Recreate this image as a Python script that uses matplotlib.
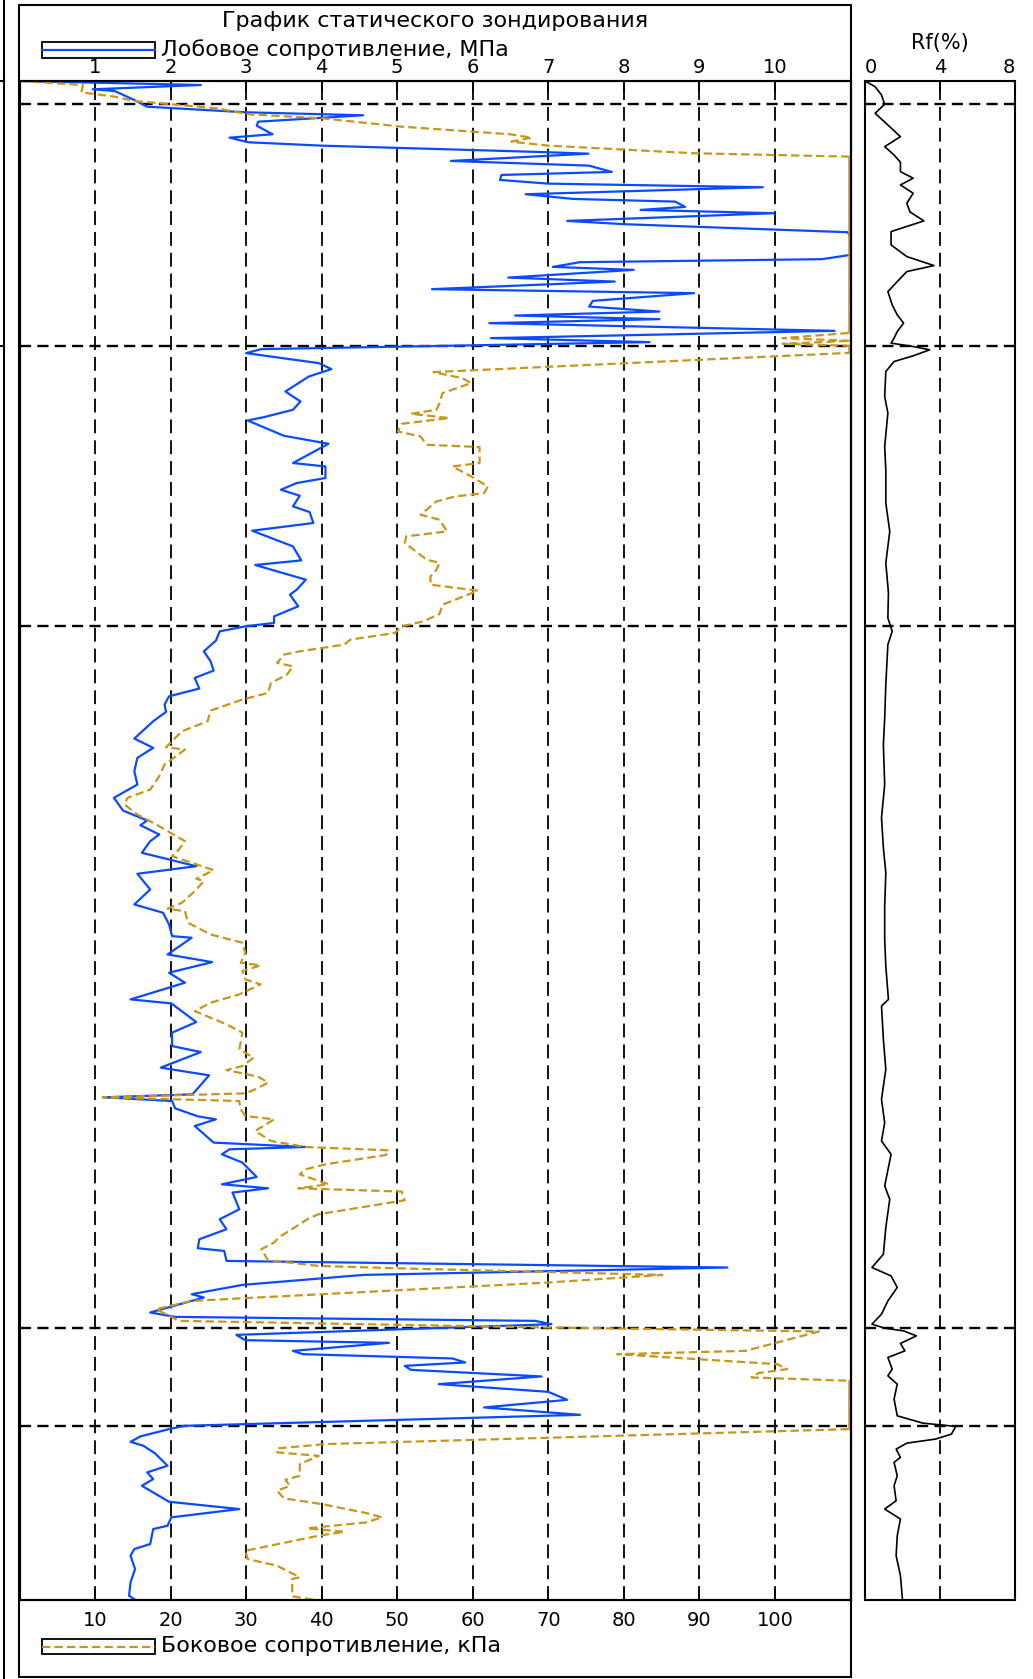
"""CPT sounding log: cone resistance, sleeve friction and friction ratio vs depth."""

import matplotlib

matplotlib.use("Agg")
import matplotlib.pyplot as plt
import numpy as np
from matplotlib.lines import Line2D
from matplotlib.patches import Rectangle
from matplotlib.transforms import offset_copy

W, H = 1033, 1679

# depth, m (0 at the top of the log)
QC_DEPTH = [0.0, 0.04, 0.083, 0.10, 0.19, 0.257, 0.313, 0.343, 0.407, 0.447, 0.533, 0.567, 0.613, 0.647,
            0.713, 0.727, 0.80, 0.833, 0.847, 0.91, 0.94, 0.99, 1.027, 1.063, 1.133, 1.18, 1.207, 1.26,
            1.29, 1.323, 1.40, 1.433, 1.513, 1.55, 1.72, 1.74, 1.783, 1.813, 1.86, 1.89, 1.967, 2.007,
            2.083, 2.123, 2.20, 2.257, 2.307, 2.347, 2.383, 2.423, 2.50, 2.573, 2.613, 2.683, 2.723,
            2.823, 2.883, 2.957, 3.107, 3.207, 3.29, 3.363, 3.397, 3.55, 3.63, 3.823, 3.857, 3.973,
            4.023, 4.09, 4.15, 4.257, 4.313, 4.423, 4.50, 4.657, 4.797, 4.843, 4.99, 5.09, 5.14, 5.257,
            5.357, 5.423, 5.457, 5.507, 5.60, 5.707, 5.807, 5.90, 5.973, 6.08, 6.157, 6.24, 6.313,
            6.407, 6.58, 6.673, 6.773, 6.907, 7.04, 7.173, 7.30, 7.40, 7.447, 7.54, 7.607, 7.723,
            7.857, 7.933, 8.09, 8.24, 8.323, 8.44, 8.557, 8.573, 8.74, 8.817, 8.923, 9.023, 9.19,
            9.23, 9.417, 9.523, 9.657, 9.717, 9.873, 9.95, 10.14, 10.17, 10.207, 10.28, 10.36, 10.39,
            10.457, 10.623, 10.667, 10.69, 10.74, 10.823, 10.967, 11.04, 11.08, 11.123, 11.29, 11.39,
            11.49, 11.59, 11.68, 11.707, 11.807, 11.873, 11.947, 12.047, 12.14, 12.173, 12.323,
            12.367, 12.407, 12.44, 12.547, 12.60, 12.627, 12.707, 12.74, 12.783, 12.823, 12.857,
            12.897, 12.963, 13.04, 13.117, 13.197, 13.273, 13.347, 13.457, 13.49, 13.563, 13.617,
            13.657, 13.73, 13.857, 13.923, 13.99, 14.057, 14.217, 14.29, 14.373, 14.457, 14.49,
            14.64, 14.69, 14.757, 14.89, 15.023, 15.157, 15.197]
# cone (front) resistance, MPa
QC = [0.0, 2.40, 0.97, 1.26, 1.52, 1.69, 2.99, 4.55, 3.16, 3.14, 3.35, 2.78, 3.03, 4.00,
      7.00, 7.53, 5.71, 7.00, 7.54, 7.84, 6.38, 6.36, 7.00, 9.84, 6.70, 7.33, 8.68, 8.81,
      8.22, 9.99, 7.25, 8.01, 10.96, 11.0, 11.0, 11.0, 10.62, 7.42, 7.06, 8.13, 6.47, 7.88,
      5.46, 8.93, 7.59, 7.54, 8.47, 6.56, 8.47, 6.22, 10.79, 6.24, 8.34, 3.20, 3.00,
      3.96, 4.13, 3.83, 3.52, 3.72, 3.62, 3.24, 3.02, 3.50, 4.09, 3.62, 4.05, 4.05,
      3.67, 3.46, 3.71, 3.62, 3.84, 3.89, 3.08, 3.62, 3.73, 3.12, 3.79, 3.67, 3.58, 3.69,
      3.37, 3.37, 2.99, 2.65, 2.60, 2.44, 2.53, 2.57, 2.32, 2.38, 1.98, 1.92, 1.94,
      1.77, 1.52, 1.77, 1.56, 1.52, 1.56, 1.25, 1.37, 1.69, 1.60, 1.85, 1.73, 1.62,
      2.34, 1.56, 1.73, 1.52, 1.90, 1.98, 2.02, 2.28, 1.96, 2.55, 1.98, 2.19, 1.47,
      2.01, 2.34, 2.02, 2.02, 2.40, 1.87, 2.51, 2.29, 1.12, 2.02, 2.06, 2.36, 2.60,
      2.32, 2.57, 3.79, 2.78, 2.68, 2.95, 3.14, 2.68, 3.29, 2.82, 2.91, 2.65,
      2.74, 2.38, 2.36, 2.71, 2.74, 9.37, 4.55, 2.95, 2.28, 2.44, 1.73,
      2.06, 6.83, 7.04, 2.87, 2.99, 4.89, 3.62, 3.75, 5.73, 5.90, 5.10,
      5.18, 6.91, 5.55, 7.00, 7.25, 6.15, 7.42, 2.19, 1.98, 1.60, 1.47,
      1.64, 1.79, 1.96, 1.69, 1.77, 1.62, 1.98, 2.91, 2.01, 1.96, 1.77,
      1.73, 1.52, 1.47, 1.53, 1.47, 1.45, 1.53]

FS_DEPTH = [0.0, 0.04, 0.113, 0.157, 0.20, 0.233, 0.273, 0.333, 0.373, 0.457, 0.533, 0.567, 0.607,
            0.647, 0.68, 0.723, 0.757, 2.52, 2.573, 2.60, 2.63, 2.65, 2.72, 2.913, 2.973, 3.023,
            3.123, 3.223, 3.29, 3.33, 3.373, 3.43, 3.507, 3.557, 3.64, 3.663, 3.823, 3.857, 3.957,
            4.057, 4.123, 4.157, 4.207, 4.34, 4.39, 4.507, 4.557, 4.623, 4.79, 4.823, 4.89, 4.957,
            5.04, 5.10, 5.24, 5.333, 5.407, 5.457, 5.523, 5.59, 5.64, 5.707, 5.74, 5.823, 5.857,
            5.94, 6.023, 6.123, 6.19, 6.30, 6.407, 6.507, 6.667, 6.69, 6.84, 6.957, 7.09, 7.173,
            7.24, 7.34, 7.44, 7.607, 7.69, 7.757, 7.897, 7.983, 8.007, 8.107, 8.223, 8.283, 8.307,
            8.423, 8.54, 8.623, 8.723, 8.823, 8.85, 8.907, 8.99, 9.04, 9.14, 9.223, 9.307, 9.44,
            9.523, 9.69, 9.773, 9.857, 9.897, 9.963, 10.023, 10.09, 10.13, 10.17, 10.207, 10.28,
            10.357, 10.39, 10.507, 10.607, 10.667, 10.70, 10.747, 10.84, 10.89, 10.94, 11.04,
            11.08, 11.113, 11.20, 11.34, 11.38, 11.44, 11.567, 11.623, 11.69, 11.80, 11.857, 11.88,
            11.947, 12.023, 12.207, 12.29, 12.407, 12.473, 12.513, 12.623, 12.707, 12.74, 12.84,
            12.89, 12.93, 12.973, 13.007, 13.49, 13.64, 13.683, 13.723, 13.757, 13.84, 13.957,
            13.997, 14.057, 14.107, 14.183, 14.24, 14.33, 14.373, 14.423, 14.483, 14.517, 14.557,
            14.707, 14.79, 14.857, 14.973, 14.99, 15.163, 15.197]
# sleeve (side) friction, kPa
FS = [0.0, 8.4, 8.2, 12.6, 15.2, 20.2, 26.1, 30.3, 40.0, 50.6, 64.9, 67.8, 65.1,
      70.0, 78.4, 89.3, 110, 110, 101, 110, 101, 110, 110, 54.8, 58.6, 59.8,
      56.0, 55.6, 55.2, 51.8, 56.9, 50.6, 50.1, 53.1, 53.9, 60.9, 60.9, 57.3, 59.8,
      62.0, 61.5, 57.7, 55.2, 53.1, 55.6, 56.6, 51.2, 51.0, 53.9, 55.6, 55.2, 54.4,
      54.4, 60.7, 56.0, 55.6, 53.5, 50.6, 49.7, 43.8, 43.0, 37.1, 35.0, 34.1, 36.2,
      35.4, 33.3, 32.9, 29.5, 25.3, 24.9, 21.5, 19.4, 21.9, 19.2, 18.5, 17.3, 14.3,
      13.9, 15.6, 18.1, 21.9, 21.1, 20.2, 25.7, 23.4, 24.4, 23.2, 21.5, 19.6, 21.9,
      22.3, 25.3, 29.5, 29.9, 29.3, 31.9, 29.5, 29.9, 31.9, 29.1, 25.3, 23.2, 27.4,
      29.5, 29.1, 31.0, 29.5, 27.4, 31.6, 32.9, 31.2, 29.9, 11.0, 29.1, 29.2,
      29.9, 33.7, 31.2, 33.3, 37.9, 48.9, 48.5, 40.5, 37.9, 37.1, 40.9,
      36.9, 50.6, 51.0, 39.6, 38.3, 37.1, 34.4, 33.7, 32.0, 32.9, 39.6, 49.7,
      85.1, 70.0, 22.8, 18.1, 21.1, 70.0, 105.8, 100.3, 96.1, 79.1, 100.3,
      101.6, 97.8, 96.9, 110, 110, 40.5, 34.1, 34.1, 39.6, 37.1, 37.1,
      35.2, 35.8, 34.1, 35.0, 40.0, 45.9, 48.0, 45.9, 38.1, 43.0, 39.6,
      29.9, 30.2, 34.1, 37.1, 36.1, 36.1, 38.9]

RF_DEPTH = [0.0, 0.057, 0.14, 0.233, 0.323, 0.44, 0.557, 0.657, 0.74, 0.813, 0.907, 0.973, 1.04,
            1.123, 1.223, 1.31, 1.40, 1.507, 1.64, 1.757, 1.847, 1.907, 2.007, 2.107, 2.24, 2.34,
            2.423, 2.507, 2.573, 2.623, 2.657, 2.69, 2.75, 2.807, 2.907, 3.157, 3.323, 3.657, 3.89,
            4.223, 4.507, 4.823, 5.12, 5.373, 5.507, 5.64, 6.04, 6.373, 6.64, 7.04, 7.373, 7.673,
            7.923, 8.257, 8.59, 8.857, 9.19, 9.257, 9.59, 9.89, 10.19, 10.423, 10.607, 10.74,
            11.057, 11.19, 11.473, 11.74, 11.873, 11.957, 12.073, 12.207, 12.34, 12.44, 12.48,
            12.507, 12.557, 12.633, 12.707, 12.773, 12.89, 12.957, 13.04, 13.19, 13.357, 13.43,
            13.463, 13.54, 13.59, 13.63, 13.69, 13.773, 13.823, 13.957, 14.057, 14.207, 14.29,
            14.39, 14.557, 14.757, 14.957, 15.197]
# friction ratio, %
RF = [0.0, 0.54, 0.88, 1.05, 0.54, 1.22, 1.89, 1.05, 1.55, 1.89, 1.89, 2.57, 1.89,
      2.57, 2.23, 2.40, 3.14, 1.39, 1.39, 2.23, 3.68, 2.23, 1.72, 1.22, 1.45, 1.72,
      2.06, 1.72, 1.55, 1.39, 2.57, 3.45, 2.57, 1.55, 1.11, 1.05, 1.22, 1.05, 1.11,
      1.11, 1.32, 1.11, 1.25, 1.22, 1.45, 1.22, 1.11, 1.05, 0.98, 1.05, 0.88, 0.98,
      1.11, 1.05, 1.05, 1.11, 1.25, 0.88, 0.98, 1.11, 0.88, 1.05, 0.88, 1.39,
      1.05, 1.32, 1.11, 0.98, 0.37, 1.39, 1.72, 1.22, 0.88, 0.37, 1.05,
      2.06, 2.74, 1.89, 2.13, 1.22, 1.45, 1.22, 1.72, 1.55, 1.72, 3.08,
      4.84, 4.61, 3.76, 2.24, 1.66, 1.89, 1.55, 1.72, 1.55, 1.66, 1.05,
      1.89, 1.72, 1.66, 1.89, 2.0]

LAYER_DEPTHS = [0.233, 2.647, 5.45, 12.48, 13.46]
DEPTH_MAX = 15.2
QC_MAX, FS_MAX, RF_MAX = 11.0, 110.0, 8.0
QC_TICKS = list(range(1, 11))
FS_TICKS = list(range(10, 101, 10))
RF_TICKS = [0, 4, 8]

TITLE = "График статического зондирования"
QC_LABEL = "Лобовое сопротивление, МПа"
FS_LABEL = "Боковое сопротивление, кПа"
RF_LABEL = "Rf(%)"

BLUE = "#0a4bff"
GOLD = "#c8961a"
FONT = "DejaVu Sans"

# pixel layout of the sheet
MAIN_L, MAIN_R = 19.5, 850.5
RF_L, RF_R = 865, 1015
PLOT_T, PLOT_B = 81, 1600


def fx(px):
    return px / W


def fy(py):
    return 1 - py / H


def main():
    plt.rcParams["font.family"] = [FONT]
    plt.rcParams["lines.scale_dashes"] = False
    fig = plt.figure(figsize=(W / 100, H / 100), dpi=100)

    height = (PLOT_B - PLOT_T) / H
    ax = fig.add_axes([fx(MAIN_L), fy(PLOT_B), fx(MAIN_R - MAIN_L), height])
    ax_rf = fig.add_axes([fx(RF_L), fy(PLOT_B), fx(RF_R - RF_L), height])
    ax_fs = ax.twiny()

    grid_style = dict(color="black", linestyle=(0, (10, 5)), linewidth=1.3)
    layer_style = dict(color="black", linestyle=(0, (8, 4.5)), linewidth=1.7, zorder=1.5)
    tick_style = dict(axis="x", direction="in", length=7, width=1.4, labelsize=14)

    # cone resistance, top scale
    ax.set_xlim(0, QC_MAX)
    ax.set_ylim(DEPTH_MAX, 0)
    ax.set_xticks(QC_TICKS)
    ax.set_yticks([])
    ax.xaxis.set_ticks_position("top")
    ax.xaxis.set_label_position("top")
    ax.tick_params(pad=3, **tick_style)
    ax.grid(axis="x", **grid_style)
    for d in LAYER_DEPTHS:
        ax.axhline(d, **layer_style)
    ax.plot(np.minimum(QC, QC_MAX), QC_DEPTH, color=BLUE, linewidth=1.6, zorder=2)

    # sleeve friction, bottom scale
    ax_fs.set_xlim(0, FS_MAX)
    ax_fs.set_ylim(DEPTH_MAX, 0)
    ax_fs.set_xticks(FS_TICKS)
    ax_fs.xaxis.set_ticks_position("bottom")
    ax_fs.xaxis.set_label_position("bottom")
    ax_fs.tick_params(pad=8, **tick_style)
    fs = np.array(FS, dtype=float)
    ax_fs.plot(fs, FS_DEPTH, color=GOLD, linewidth=1.6, linestyle=(0, (6, 3)))
    # readings that hit the scale limit run as a thin solid line just inside the frame
    at_edge = np.where(fs >= FS_MAX, fs, np.nan)
    ax_fs.plot(at_edge, FS_DEPTH, color=GOLD, linewidth=1.1,
               transform=offset_copy(ax_fs.transData, fig=fig, x=-2, units="dots"))

    for a in (ax, ax_fs, ax_rf):
        for s in a.spines.values():
            s.set_linewidth(1.5)

    # friction ratio panel
    ax_rf.set_xlim(0, RF_MAX)
    ax_rf.set_ylim(DEPTH_MAX, 0)
    ax_rf.set_xticks(RF_TICKS)
    ax_rf.set_yticks([])
    ax_rf.xaxis.set_ticks_position("top")
    ax_rf.tick_params(pad=3, **tick_style)
    labels = ax_rf.get_xticklabels()
    labels[0].set_horizontalalignment("left")
    labels[-1].set_horizontalalignment("right")
    ax_rf.grid(axis="x", **grid_style)
    for d in LAYER_DEPTHS:
        ax_rf.axhline(d, **layer_style)
    ax_rf.plot(RF, RF_DEPTH, color="black", linewidth=1.2)

    # outer frame of the main sheet and the cut-off neighbour column
    fig.add_artist(Rectangle((fx(19), fy(1677)), fx(MAIN_R - 19), (1677 - 5) / H, fill=False,
                             edgecolor="black", linewidth=1.5, transform=fig.transFigure))
    fig.add_artist(Line2D([fx(3.5), fx(3.5)], [0, 1], color="black", linewidth=1.5,
                          transform=fig.transFigure))
    for py in (81, 346):
        fig.add_artist(Line2D([0, fx(3.5)], [fy(py), fy(py)], color="black", linewidth=1.5,
                              transform=fig.transFigure))

    # titles and legend keys
    fig.text(fx(435), fy(21), TITLE, ha="center", va="center", fontsize=16)
    fig.add_artist(Rectangle((fx(42), fy(58)), fx(155 - 42), 16 / H, fill=False,
                             edgecolor="black", linewidth=1.3, transform=fig.transFigure))
    fig.add_artist(Line2D([fx(42), fx(155)], [fy(50), fy(50)], color=BLUE, linewidth=1.6,
                          transform=fig.transFigure))
    fig.text(fx(161), fy(50), QC_LABEL, ha="left", va="center", fontsize=16)

    fig.add_artist(Rectangle((fx(42), fy(1654)), fx(155 - 42), 15 / H, fill=False,
                             edgecolor="black", linewidth=1.3, transform=fig.transFigure))
    fig.add_artist(Line2D([fx(42), fx(155)], [fy(1646.5), fy(1646.5)], color=GOLD, linewidth=1.6,
                          linestyle=(0, (6, 3)), transform=fig.transFigure))
    fig.text(fx(161), fy(1646), FS_LABEL, ha="left", va="center", fontsize=16)

    fig.text(fx(940), fy(43), RF_LABEL, ha="center", va="center", fontsize=15)

    fig.savefig("out.png", dpi=100)
    plt.close(fig)


if __name__ == "__main__":
    main()
